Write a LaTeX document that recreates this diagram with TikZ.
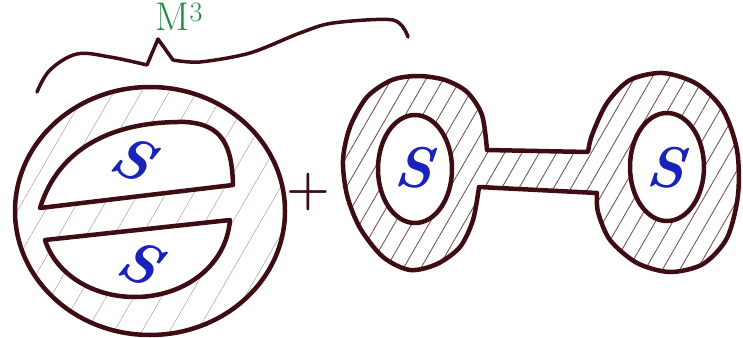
\documentclass[tikz,border=0pt]{standalone}
\usepackage{tikz}
\usetikzlibrary{patterns.meta}
\definecolor{inkmaroon}{RGB}{62,12,18}
\definecolor{markgreen}{RGB}{30,140,60}
\definecolor{markblue}{RGB}{25,35,185}

\begin{document}
\begin{tikzpicture}[x=1pt, y=-1pt,
  outline/.style={draw=inkmaroon, line width=4.5pt, line join=round, line cap=round},
  hatch/.style={pattern={Lines[angle=60, distance=15pt, line width=0.9pt]}, pattern color=inkmaroon!70},
  faint/.style={pattern={Lines[angle=60, distance=24pt, line width=0.6pt]}, pattern color=inkmaroon!35},
  sletter/.style={text=markblue, font=\fontsize{58}{58}\selectfont\itshape\bfseries}]
  \useasboundingbox (0,0) rectangle (743,337);
  % brace and its label
  \draw[inkmaroon, line width=3.5pt, line cap=round, line join=round]
    plot[smooth, tension=0.6] coordinates {(37,92) (50,70) (77,54) (110,57) (147,65)}
    -- (158,39) -- plot[smooth] coordinates {(173,60) (200,62) (250,53) (300,33) (333,23) (393,20) (408,37)};
  \node[text=markgreen, anchor=base west, font=\fontsize{40}{40}\selectfont] (mlabel) at (152,31) {M\textsuperscript{3}};
  % first summand
  \draw[outline, faint] (150,211) ellipse [x radius=135, y radius=124];
  \draw[outline, fill=white] (40,208) -- (233,185) .. controls (232,145) and (222,124) .. (185,122)
    .. controls (110,121) and (58,150) .. cycle;
  \draw[outline, fill=white] (45,240) -- (230,220) .. controls (226,268) and (182,297) .. (135,297)
    .. controls (90,297) and (55,272) .. cycle;
  \node[sletter, rotate=-25] (supper) at (133,158) {S};
  \node[sletter, rotate=-25] (slower) at (140,262) {S};
  \node[text=inkmaroon, font=\fontsize{50}{50}\selectfont\bfseries] (plus) at (308,192) {+};
  % second summand
  \draw[outline, hatch]
    plot[smooth] coordinates {(487,150) (482,115) (467,92) (445,80) (418,76) (392,80) (367,97) (350,127)
      (343,160) (347,195) (360,228) (383,257) (410,270) (437,264) (460,247) (473,220) (479,187)}
    -- plot[smooth] coordinates {(597,193) (598,212) (610,240) (637,263) (670,272) (703,264) (727,238)
      (738,195) (737,150) (723,110) (697,84) (663,73) (630,80) (607,103) (592,135) (588,152)}
    -- cycle;
  \draw[outline, fill=white] (415,169) ellipse [x radius=37, y radius=54];
  \draw[outline, fill=white] (667,167) ellipse [x radius=37, y radius=54];
  \node[sletter, rotate=-5] (sleft) at (414,167) {S};
  \node[sletter, rotate=-5] (sright) at (666,167) {S};
\end{tikzpicture}
\end{document}
